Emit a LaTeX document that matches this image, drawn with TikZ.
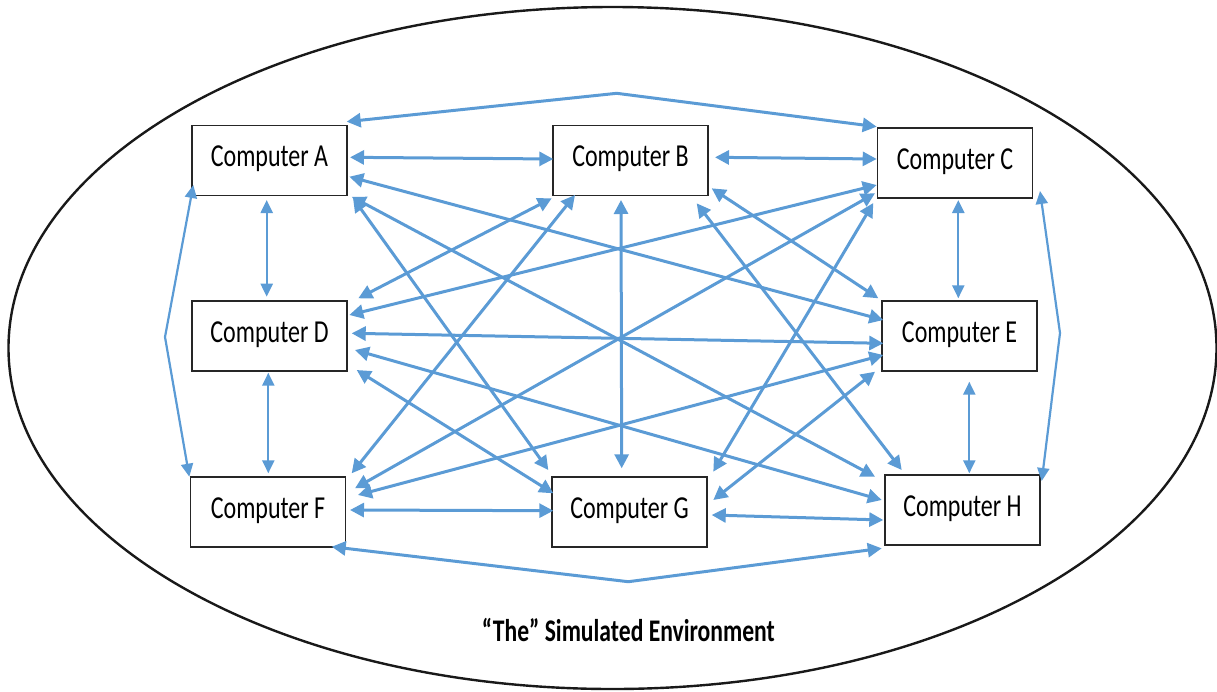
\documentclass[tikz,border=0pt]{standalone}
\usepackage{fontspec}
\newfontfamily\boxfont[FakeStretch=0.75]{Carlito}
\usetikzlibrary{arrows.meta}
\definecolor{linkblue}{HTML}{5B9BD5}
\tikzset{
  pc/.style={draw=black!85, line width=1.8pt, fill=white, minimum width=155pt, minimum height=70pt,
    inner sep=0pt, text height=16pt, text depth=4pt, font=\boxfont\fontsize{32}{36}\selectfont},
  link/.style={draw=linkblue, line width=3pt, {Triangle[length=14pt,width=14pt]}-{Triangle[length=14pt,width=14pt]}},
  thinlink/.style={draw=linkblue, line width=2.2pt, {Triangle[length=13pt,width=12pt]}-{Triangle[length=13pt,width=12pt]}},
}
\newcommand{\np}[3]{([shift={(#2,#3)}]#1.center)}
\begin{document}
\begin{tikzpicture}[x=1pt,y=-1pt]
\useasboundingbox (0,0) rectangle (1217,691);
\draw[line width=2.4pt, black!90] (612.5,348) ellipse [x radius=604pt, y radius=341pt];

\node[pc] (a) at (269.5,160.5) {Computer A};
\node[pc] (b) at (630.5,160.5) {Computer B};
\node[pc] (c) at (955,163) {Computer C};
\node[pc] (d) at (269.5,336) {Computer D};
\node[pc] (e) at (959.5,336) {Computer E};
\node[pc] (f) at (268,512) {Computer F};
\node[pc] (g) at (629.5,512) {Computer G};
\node[pc] (h) at (962.5,510) {Computer H};

\node[font=\boxfont\fontsize{31.5}{34}\selectfont\bfseries, text height=19pt, text depth=0pt, inner sep=0pt, anchor=base] (title) at (628.3,641.7) {“The” Simulated Environment};

\coordinate (topbend) at (616.7,93.3);
\coordinate (leftbend) at (165,337);
\coordinate (rightbend) at (1060,333);
\coordinate (bottombend) at (628.3,581.7);

% horizontal neighbours
\draw[link] \np{a}{80.5}{-3.2} -- \np{b}{-77.2}{-1.5};
\draw[link] \np{b}{84.5}{-3.2} -- \np{c}{-78.3}{-4};
\draw[link] \np{f}{82}{-2} -- \np{g}{-76.2}{-1.3};
\draw[link] \np{g}{82.2}{3} -- \np{h}{-79.2}{10};
% vertical neighbours
\draw[thinlink] \np{a}{-2.8}{39.5} -- \np{d}{-2.8}{-39.3};
\draw[thinlink] \np{d}{-1.2}{36.7} -- \np{f}{0.3}{-38.7};
\draw[thinlink] \np{c}{3.3}{37} -- \np{e}{-1.2}{-37.7};
\draw[thinlink] \np{e}{9.8}{45.7} -- \np{h}{6.8}{-36.7};
% bent outer links
\draw[link] \np{a}{77.2}{-38.8} -- (topbend) -- \np{c}{-78.3}{-36.3};
\draw[thinlink] \np{a}{-76.2}{24.5} -- (leftbend) -- \np{f}{-78.7}{-35.3};
\draw[thinlink] \np{c}{85}{28} -- (rightbend) -- \np{h}{79.2}{-29};
\draw[link] \np{f}{63.7}{34.7} -- (bottombend) -- \np{h}{-80.8}{38.3};
% diagonals
\draw[link] \np{a}{79.8}{16.2} -- \np{e}{-76.2}{-16};
\draw[link] \np{a}{82.2}{36.2} -- \np{h}{-87.5}{-33.3};
\draw[link] \np{a}{83.5}{37.5} -- \np{g}{-81.2}{-42};
\draw[link] \np{b}{-78.8}{37.8} -- \np{d}{88.8}{-37.7};
\draw[link] \np{b}{-55.5}{34.5} -- \np{f}{83.7}{-38.7};
\draw[link] \np{b}{-9.5}{39.5} -- \np{g}{-7.8}{-43.7};
\draw[link] \np{b}{81.2}{27.8} -- \np{e}{-81.2}{-37.7};
\draw[link] \np{b}{66.2}{42.8} -- \np{h}{-60.8}{-40};
\draw[link] \np{c}{-78.3}{22} -- \np{d}{79.8}{-21};
\draw[link] \np{c}{-80}{30.3} -- \np{f}{87}{-23.7};
\draw[link] \np{c}{-81.7}{40} -- \np{g}{83.8}{-40.3};
\draw[link] \np{d}{82.2}{-2.7} -- \np{e}{-76.2}{7.3};
\draw[link] \np{d}{87.2}{34} -- \np{g}{-76.2}{-18.7};
\draw[link] \np{d}{85.5}{14} -- \np{h}{-80.8}{-10};
\draw[link] \np{e}{-76.2}{19} -- \np{f}{90}{-17};
\draw[link] \np{e}{-84.5}{35.7} -- \np{g}{83.8}{-12};
\end{tikzpicture}
\end{document}
